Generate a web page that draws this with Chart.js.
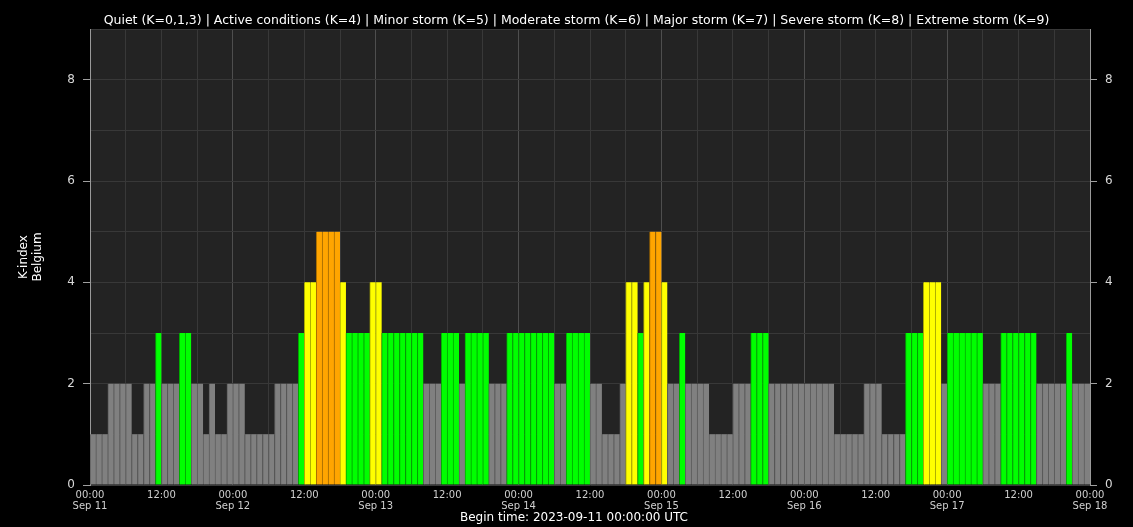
<!DOCTYPE html>
<html>
<head>
<meta charset="utf-8">
<script src="https://cdn.jsdelivr.net/npm/chart.js@4.4.1/dist/chart.umd.min.js"></script>
<style>
  html, body { margin: 0; padding: 0; background: #000; }
  canvas { display: block; }
</style>
</head>
<body>
<canvas id="c" width="1133" height="527"></canvas>
<script>
// Hourly K-index, Belgium (Dourbes), one array per day (24 hourly values)
const sep11 = [1,1,1,2,2,2,2,1,1,2,2,3,2,2,2,3,3,2,2,1,2,1,1,2];
const sep12 = [2,2,1,1,1,1,1,2,2,2,2,3,4,4,5,5,5,5,4,3,3,3,3,4];
const sep13 = [4,3,3,3,3,3,3,3,2,2,2,3,3,3,2,3,3,3,3,2,2,2,3,3];
const sep14 = [3,3,3,3,3,3,2,2,3,3,3,3,2,2,1,1,1,2,4,4,3,4,5,5];
const sep15 = [4,2,2,3,2,2,2,2,1,1,1,1,2,2,2,3,3,3,2,2,2,2,2,2];
const sep16 = [2,2,2,2,2,1,1,1,1,1,2,2,2,1,1,1,1,3,3,3,4,4,4,2];
const sep17 = [3,3,3,3,3,3,2,2,2,3,3,3,3,3,3,2,2,2,2,2,3,2,2,2];

const dayLabels = ['Sep 11','Sep 12','Sep 13','Sep 14','Sep 15','Sep 16','Sep 17','Sep 18'];
const hourLabels = ['00:00','12:00'];
const yTickLabels = ['0','2','4','6','8'];

const titleText = 'Quiet (K=0,1,3) | Active conditions (K=4) | Minor storm (K=5) | Moderate storm (K=6) | Major storm (K=7) | Severe storm (K=8) | Extreme storm (K=9)';
const yTitle = ['K-index','Belgium'];
const beginText = 'Begin time: 2023-09-11 00:00:00 UTC';

const kValues = [].concat(sep11, sep12, sep13, sep14, sep15, sep16, sep17);
const points = kValues.map((k, i) => ({x: i + 0.5, y: k}));

function fillFor(k) {
  if (k <= 2) return '#808080';
  if (k === 3) return '#00ff00';
  if (k === 4) return '#ffff00';
  if (k === 5) return '#ffa500';
  if (k === 6) return '#ff4500';
  if (k === 7) return '#ff0000';
  if (k === 8) return '#c00000';
  return '#800000';
}
function edgeFor(k) {
  if (k <= 2) return '#5c5c5c';
  if (k === 3) return '#00a800';
  if (k === 4) return '#a8a800';
  if (k === 5) return '#a06800';
  return '#600000';
}

const FONT = 'DejaVu Sans';

const bgPlugin = {
  id: 'bg',
  beforeDraw(chart) {
    const {ctx, chartArea: a} = chart;
    ctx.save();
    ctx.fillStyle = '#000';
    ctx.fillRect(0, 0, chart.width, chart.height);
    ctx.fillStyle = '#232323';
    ctx.fillRect(a.left, a.top, a.right - a.left, a.bottom - a.top);
    ctx.restore();
  },
  afterDraw(chart) {
    const {ctx} = chart;
    ctx.save();
    ctx.fillStyle = '#ffffff';
    ctx.textAlign = 'center';
    ctx.font = '12.5px "' + FONT + '"';
    ctx.textBaseline = 'middle';
    ctx.fillText(titleText, 576.5, 20.5);
    ctx.font = '12px "' + FONT + '"';
    ctx.textBaseline = 'alphabetic';
    ctx.fillText(beginText, 574, 521);
    ctx.restore();
  }
};

const yTickCb = (v) => (v % 2 === 0 ? yTickLabels[v / 2] : '');

new Chart(document.getElementById('c'), {
  type: 'bar',
  data: {
    datasets: [{
      data: points,
      backgroundColor: kValues.map(fillFor),
      borderColor: kValues.map(edgeFor),
      borderWidth: {left: 1, top: 0, right: 0, bottom: 0},
      borderSkipped: false,
      barPercentage: 1.0,
      categoryPercentage: 1.0
    }]
  },
  options: {
    responsive: false,
    animation: false,
    events: [],
    layout: { padding: {left: 0, right: 0, top: 29, bottom: 0} },
    plugins: {
      legend: { display: false },
      tooltip: { enabled: false },
      title: { display: false }
    },
    scales: {
      x: {
        type: 'linear',
        min: 0, max: 168,
        offset: false,
        grid: {
          offset: false,
          drawTicks: false,
          color: (ctx) => (ctx.tick && ctx.tick.value % 24 === 0) ? '#4e4e4e' : '#383838',
          lineWidth: 1
        },
        border: { display: false },
        ticks: {
          stepSize: 6,
          autoSkip: false,
          maxRotation: 0,
          minRotation: 0,
          padding: 5,
          color: '#cfcfcf',
          font: { family: FONT, size: 10, lineHeight: 1.1 },
          callback: (v) => {
            if (v % 24 === 0) return [hourLabels[0], dayLabels[v / 24]];
            if (v % 24 === 12) return hourLabels[1];
            return '';
          }
        },
        afterFit: (s) => { s.height = 42; }
      },
      y: {
        position: 'left',
        min: 0, max: 9,
        grid: {
          color: '#383838',
          tickLength: 7,
          tickColor: (ctx) => (ctx.tick && ctx.tick.value % 2 === 0 && ctx.tick.value < 9) ? '#a0a0a0' : 'rgba(0,0,0,0)'
        },
        border: { color: '#9a9a9a' },
        ticks: {
          stepSize: 1,
          padding: 8,
          color: '#d8d8d8',
          font: { family: FONT, size: 12 },
          callback: yTickCb
        },
        title: {
          display: true,
          text: yTitle,
          color: '#ffffff',
          font: { family: FONT, size: 12, lineHeight: 1.15 },
          padding: { top: 17, bottom: 0 }
        },
        afterFit: (s) => { s.width = 90; }
      },
      y2: {
        position: 'right',
        min: 0, max: 9,
        grid: {
          drawOnChartArea: false,
          tickLength: 7,
          tickColor: (ctx) => (ctx.tick && ctx.tick.value % 2 === 0 && ctx.tick.value < 9) ? '#a0a0a0' : 'rgba(0,0,0,0)'
        },
        border: { color: '#9a9a9a' },
        ticks: {
          stepSize: 1,
          padding: 8,
          color: '#d8d8d8',
          font: { family: FONT, size: 12 },
          callback: yTickCb
        },
        afterFit: (s) => { s.width = 43; }
      }
    }
  },
  plugins: [bgPlugin]
});
</script>
</body>
</html>
